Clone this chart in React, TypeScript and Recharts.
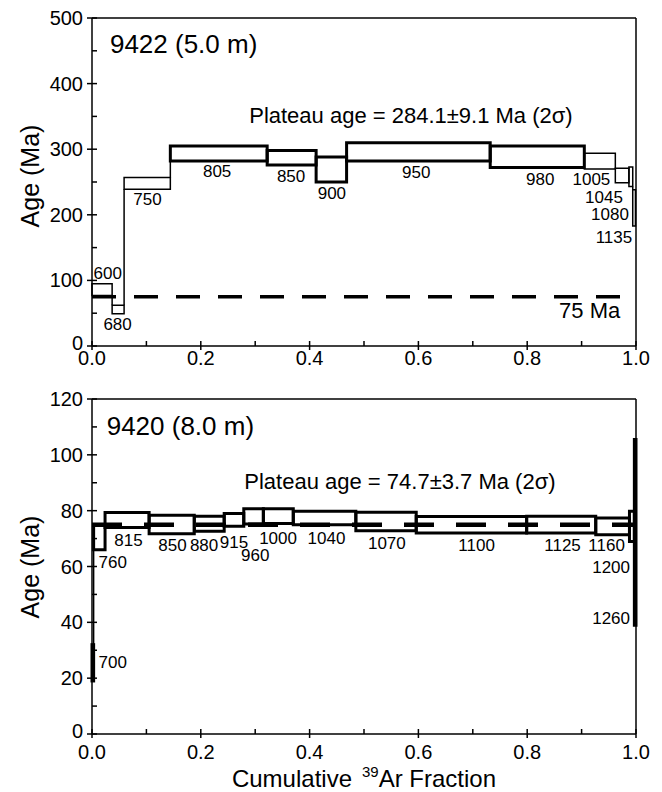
import React from 'react';
import { ComposedChart, XAxis, YAxis, ReferenceArea, ReferenceLine, Scatter } from 'recharts';

const FONT = '"Liberation Sans", Arial, Helvetica, sans-serif';

// ---------- Sample 9422 (top) ----------
const topTemps = ['600', '680', '750', '805', '850', '900', '950', '980', '1005', '1045', '1080', '1135'];
const topCumFrac = [0.037, 0.059, 0.144, 0.322, 0.412, 0.468, 0.732, 0.905, 0.962, 0.987, 0.994, 0.999];
const topAgeLow = [77, 49, 239, 282, 276, 250, 282, 272, 270, 249, 243, 183];
const topAgeHigh = [95, 62, 257, 305, 298, 288, 310, 305, 294, 271, 273, 238];
const topPlateau = [false, false, false, true, true, true, true, true, false, false, false, false];
const topTitle = '9422 (5.0 m)';
const topPlateauText = 'Plateau age = 284.1\u00B19.1 Ma (2\u03C3)';

// ---------- Sample 9420 (bottom) ----------
const bottomTemps = ['700', '760', '815', '850', '880', '915', '960', '1000', '1040', '1070', '1100', '1125', '1160', '1200', '1260'];
const bottomCumFrac = [0.003, 0.024, 0.105, 0.188, 0.243, 0.279, 0.315, 0.37, 0.485, 0.596, 0.799, 0.926, 0.988, 0.997, 1.0];
const bottomAgeLow = [19, 66, 74, 71.7, 72.6, 74.4, 75.2, 75.4, 75, 72.8, 72, 72, 71.4, 69, 39];
const bottomAgeHigh = [32, 75, 79.3, 78.4, 78, 79, 80.7, 80.7, 79.8, 79.4, 77.9, 78, 77.4, 79.8, 105.5];
const bottomFilled = ['700', '1260'];
const bottomTitle = '9420 (8.0 m)';
const bottomPlateauText = 'Plateau age = 74.7\u00B13.7 Ma (2\u03C3)';

const referenceAge = 75;
const referenceText = '75 Ma';

// ---------- Ticks ----------
const xMajorTicks = [0, 0.2, 0.4, 0.6, 0.8, 1.0];
const xMinorTicks = [0.1, 0.3, 0.5, 0.7, 0.9];
const topYMajor = [0, 100, 200, 300, 400, 500];
const topYMinor = [50, 150, 250, 350, 450];
const bottomYMajor = [0, 20, 40, 60, 80, 100, 120];
const bottomYMinor = [10, 30, 50, 70, 90, 110];

// ---------- Annotation placement (data coordinates) ----------
type Anno = { text: string; x: number; y: number; anchor: 'start' | 'middle' | 'end'; kind: 'title' | 'plateau' | 'step' | 'ref' };
const topAnnotations: Anno[] = [
  { text: topTitle, x: 0.033, y: 460, anchor: 'start', kind: 'title' },
  { text: topPlateauText, x: 0.289, y: 352, anchor: 'start', kind: 'plateau' },
  { text: '600', x: 0.029, y: 110, anchor: 'middle', kind: 'step' },
  { text: '680', x: 0.047, y: 33.5, anchor: 'middle', kind: 'step' },
  { text: '750', x: 0.102, y: 223, anchor: 'middle', kind: 'step' },
  { text: '805', x: 0.23, y: 266, anchor: 'middle', kind: 'step' },
  { text: '850', x: 0.366, y: 259, anchor: 'middle', kind: 'step' },
  { text: '900', x: 0.441, y: 232.7, anchor: 'middle', kind: 'step' },
  { text: '950', x: 0.596, y: 264.5, anchor: 'middle', kind: 'step' },
  { text: '980', x: 0.824, y: 254.5, anchor: 'middle', kind: 'step' },
  { text: '1005', x: 0.918, y: 254.5, anchor: 'middle', kind: 'step' },
  { text: '1045', x: 0.976, y: 226, anchor: 'end', kind: 'step' },
  { text: '1080', x: 0.987, y: 200.5, anchor: 'end', kind: 'step' },
  { text: '1135', x: 0.993, y: 165, anchor: 'end', kind: 'step' },
  { text: referenceText, x: 0.971, y: 53.4, anchor: 'end', kind: 'ref' },
];
const bottomAnnotations: Anno[] = [
  { text: bottomTitle, x: 0.027, y: 110.3, anchor: 'start', kind: 'title' },
  { text: bottomPlateauText, x: 0.28, y: 90.5, anchor: 'start', kind: 'plateau' },
  { text: '700', x: 0.012, y: 25.7, anchor: 'start', kind: 'step' },
  { text: '760', x: 0.012, y: 61.3, anchor: 'start', kind: 'step' },
  { text: '815', x: 0.067, y: 69.4, anchor: 'middle', kind: 'step' },
  { text: '850', x: 0.148, y: 67.4, anchor: 'middle', kind: 'step' },
  { text: '880', x: 0.206, y: 67.4, anchor: 'middle', kind: 'step' },
  { text: '915', x: 0.261, y: 68.7, anchor: 'middle', kind: 'step' },
  { text: '960', x: 0.3, y: 63.8, anchor: 'middle', kind: 'step' },
  { text: '1000', x: 0.342, y: 70, anchor: 'middle', kind: 'step' },
  { text: '1040', x: 0.431, y: 70, anchor: 'middle', kind: 'step' },
  { text: '1070', x: 0.542, y: 68.2, anchor: 'middle', kind: 'step' },
  { text: '1100', x: 0.707, y: 67.4, anchor: 'middle', kind: 'step' },
  { text: '1125', x: 0.865, y: 67.7, anchor: 'middle', kind: 'step' },
  { text: '1160', x: 0.946, y: 67.4, anchor: 'middle', kind: 'step' },
  { text: '1200', x: 0.989, y: 59.7, anchor: 'end', kind: 'step' },
  { text: '1260', x: 0.989, y: 41.3, anchor: 'end', kind: 'step' },
];

const fontSizes: Record<string, number> = { title: 26, plateau: 22, step: 17, ref: 22 };

type Step = { temp: string; x0: number; x1: number; lo: number; hi: number; width: number; filled: boolean };

const buildSteps = (temps: string[], cum: number[], lo: number[], hi: number[], widthOf: (i: number) => number, filledOf: (i: number) => boolean): Step[] =>
  temps.map((t, i) => ({
    temp: t,
    x0: i === 0 ? 0 : cum[i - 1],
    x1: cum[i],
    lo: lo[i],
    hi: hi[i],
    width: widthOf(i),
    filled: filledOf(i),
  }));

const topSteps = buildSteps(topTemps, topCumFrac, topAgeLow, topAgeHigh, (i) => (topPlateau[i] ? 3 : 1.5), () => false);
const bottomSteps = buildSteps(bottomTemps, bottomCumFrac, bottomAgeLow, bottomAgeHigh, () => 3, (i) => bottomFilled.includes(bottomTemps[i]));

const connectors = (steps: Step[]) => {
  const segs: { x: number; y1: number; y2: number }[] = [];
  for (let i = 1; i < steps.length; i++) {
    const p = steps[i - 1];
    const n = steps[i];
    if (n.lo > p.hi) segs.push({ x: n.x0, y1: p.hi, y2: n.lo });
    else if (n.hi < p.lo) segs.push({ x: n.x0, y1: n.hi, y2: p.lo });
  }
  return segs;
};

const isIn = (arr: number[], v: number) => arr.some((m) => Math.abs(m - v) < 1e-9);

const makeXTick = (labelDy: number) => (props: any) => {
  const { x, y, payload } = props;
  const v = payload.value;
  const major = isIn(xMajorTicks, v);
  return (
    <g>
      <line x1={x} x2={x} y1={y - 5} y2={major ? y + 4 : y} stroke="#000" strokeWidth={1.5} />
      {major && (
        <text x={x} y={y + labelDy} textAnchor="middle" dominantBaseline="central" fontSize={20} fontFamily={FONT} fill="#000">
          {v.toFixed(1)}
        </text>
      )}
    </g>
  );
};

const makeYTick = (majors: number[]) => (props: any) => {
  const { x, y, payload } = props;
  const v = payload.value;
  const major = isIn(majors, v);
  return (
    <g>
      <line x1={major ? x - 5 : x} x2={x + 5} y1={y} y2={y} stroke="#000" strokeWidth={1.5} />
      {major && (
        <text x={x - 9} y={v === 0 ? y - 3 : y} textAnchor="end" dominantBaseline="central" fontSize={20} fontFamily={FONT} fill="#000">
          {v}
        </text>
      )}
    </g>
  );
};

const AnnoShape = (props: any) => {
  const { cx, cy, payload } = props;
  if (cx == null || cy == null) return null;
  return (
    <text x={cx} y={cy} textAnchor={payload.anchor} dominantBaseline="central" fontSize={fontSizes[payload.kind]} fontFamily={FONT} fill="#000">
      {payload.text}
    </text>
  );
};

type PanelProps = {
  height: number;
  marginTop: number;
  xAxisHeight: number;
  yMax: number;
  yMajor: number[];
  yMinor: number[];
  steps: Step[];
  annotations: Anno[];
  dashWidth: number;
  dash: string;
  xLabelDy: number;
  yTitleY: number;
  xTitle?: boolean;
};

const Panel = (p: PanelProps) => {
  const segs = connectors(p.steps);
  const yTicks = [...p.yMajor, ...p.yMinor].sort((a, b) => a - b);
  const xTicks = [...xMajorTicks, ...xMinorTicks].sort((a, b) => a - b);
  return (
    <ComposedChart width={662} height={p.height} margin={{ top: p.marginTop, right: 26, left: 0, bottom: 0 }}>
      <XAxis
        type="number"
        dataKey="x"
        domain={[0, 1]}
        allowDataOverflow
        ticks={xTicks}
        interval={0}
        tickLine={false}
        tickSize={0}
        tickMargin={0}
        height={p.xAxisHeight}
        axisLine={{ stroke: '#000', strokeWidth: 1.5 }}
        tick={makeXTick(p.xLabelDy)}
        label={
          p.xTitle
            ? {
                content: () => (
                  <text x={364} y={p.height - 5} textAnchor="middle" fontSize={24} fontFamily={FONT} fill="#000">
                    <tspan>Cumulative</tspan>
                    <tspan dx={10} dy={-10} fontSize={15}>39</tspan>
                    <tspan dy={10}>Ar Fraction</tspan>
                  </text>
                ),
              }
            : undefined
        }
      />
      <YAxis
        type="number"
        dataKey="y"
        domain={[0, p.yMax]}
        allowDataOverflow
        ticks={yTicks}
        interval={0}
        tickLine={false}
        tickSize={0}
        tickMargin={0}
        width={92}
        axisLine={{ stroke: '#000', strokeWidth: 1.5 }}
        tick={makeYTick(p.yMajor)}
        label={{
          content: () => (
            <text
              x={30}
              y={p.yTitleY}
              transform={`rotate(-90 30 ${p.yTitleY})`}
              textAnchor="middle"
              dominantBaseline="central"
              fontSize={25}
              fontFamily={FONT}
              fill="#000"
            >
              Age (Ma)
            </text>
          ),
        }}
      />
      {p.steps.map((s) => (
        <ReferenceArea
          key={s.temp}
          x1={s.x0}
          x2={s.x1}
          y1={s.lo}
          y2={s.hi}
          ifOverflow="visible"
          fill={s.filled ? '#000' : 'none'}
          fillOpacity={s.filled ? 1 : 0}
          stroke="#000"
          strokeWidth={s.width}
        />
      ))}
      {segs.map((g, i) => (
        <ReferenceLine
          key={'c' + i}
          ifOverflow="visible"
          segment={[
            { x: g.x, y: g.y1 },
            { x: g.x, y: g.y2 },
          ]}
          stroke="#000"
          strokeWidth={1.5}
        />
      ))}
      <ReferenceLine y={referenceAge} stroke="#000" strokeWidth={p.dashWidth} strokeDasharray={p.dash} />
      <ReferenceLine y={p.yMax} stroke="#000" strokeWidth={1.5} />
      <ReferenceLine x={1} stroke="#000" strokeWidth={1.5} />
      <Scatter data={p.annotations} dataKey="y" shape={AnnoShape} isAnimationActive={false} />
    </ComposedChart>
  );
};

export default function App() {
  return (
    <div style={{ position: 'absolute', left: 0, top: 0, width: 662, height: 792, background: '#fff' }}>
      <div style={{ position: 'absolute', left: 0, top: 0 }}>
        <Panel
          height={372}
          marginTop={18}
          xAxisHeight={26}
          yMax={500}
          yMajor={topYMajor}
          yMinor={topYMinor}
          steps={topSteps}
          annotations={topAnnotations}
          dashWidth={3.5}
          dash="24 18"
          xLabelDy={12}
          yTitleY={176}
        />
      </div>
      <div style={{ position: 'absolute', left: 0, top: 372 }}>
        <Panel
          height={420}
          marginTop={27}
          xAxisHeight={58}
          yMax={120}
          yMajor={bottomYMajor}
          yMinor={bottomYMinor}
          steps={bottomSteps}
          annotations={bottomAnnotations}
          dashWidth={4.5}
          dash="30 22"
          xLabelDy={18}
          yTitleY={195}
          xTitle
        />
      </div>
    </div>
  );
}
